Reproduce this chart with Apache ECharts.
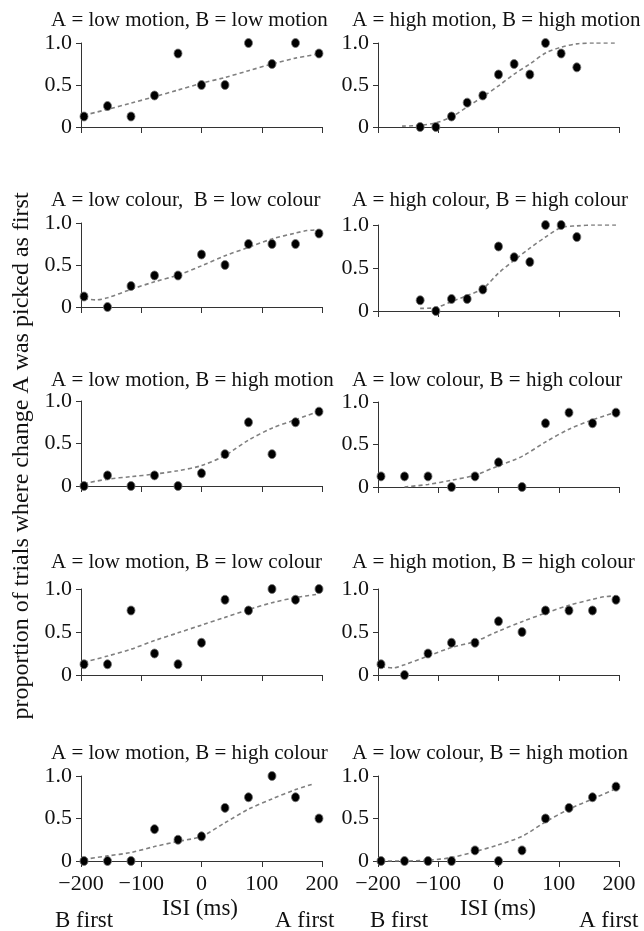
<!DOCTYPE html>
<html>
<head>
<meta charset="utf-8">
<title>temporal order judgements</title>
<script src="https://cdn.jsdelivr.net/npm/echarts@6/dist/echarts.min.js"></script>
<style>
  html, body { margin: 0; padding: 0; background: #fff; }
  #chart { width: 644px; height: 931px; }
</style>
</head>
<body>
<div id="chart"></div>
<script>
// ISI values (ms), two different sets were used
const isiLow = [-195, -156, -117, -78, -39, 0, 39, 78, 117, 156, 195]
const isiHigh = [-130, -104, -78, -52, -26, 0, 26, 52, 78, 104, 130]

const panelTitles = [
  'A = low motion, B = low motion',
  'A = high motion, B = high motion',
  'A = low colour,  B = low colour',
  'A = high colour, B = high colour',
  'A = low motion, B = high motion',
  'A = low colour, B = high colour',
  'A = low motion, B = low colour',
  'A = high motion, B = high colour',
  'A = low motion, B = high colour',
  'A = low colour, B = high motion'
]

// proportion of trials where A was picked first
const lmLm = [0.125, 0.25, 0.125, 0.375, 0.875, 0.5, 0.5, 1.0, 0.75, 1.0, 0.875]
const hmHm = [0, 0, 0.125, 0.29, 0.375, 0.625, 0.75, 0.625, 1.0, 0.875, 0.71]
const lcLc = [0.125, 0, 0.25, 0.375, 0.375, 0.625, 0.5, 0.75, 0.75, 0.75, 0.875]
const hcHc = [0.125, 0, 0.14, 0.14, 0.25, 0.75, 0.625, 0.57, 1.0, 1.0, 0.86]
const lmHm = [0, 0.125, 0, 0.125, 0, 0.15, 0.375, 0.75, 0.375, 0.75, 0.875]
const lcHc = [0.125, 0.125, 0.125, 0, 0.125, 0.29, 0, 0.75, 0.875, 0.75, 0.875]
const lmLc = [0.125, 0.125, 0.75, 0.25, 0.125, 0.375, 0.875, 0.75, 1.0, 0.875, 1.0]
const hmHc = [0.125, 0, 0.25, 0.375, 0.375, 0.625, 0.5, 0.75, 0.75, 0.75, 0.875]
const lmHc = [0, 0, 0, 0.375, 0.25, 0.29, 0.625, 0.75, 1.0, 0.75, 0.5]
const lcHm = [0, 0, 0, 0, 0.125, 0, 0.125, 0.5, 0.625, 0.75, 0.875]

// fitted curves (dashed)
const lmLmFitX = isiLow
const lmLmFitY = [0.14, 0.21, 0.285, 0.36, 0.44, 0.52, 0.59, 0.67, 0.75, 0.82, 0.87]
const hmHmFitX = [-160, -130, -104, -78, -52, -26, 0, 26, 52, 78, 104, 130, 160, 195]
const hmHmFitY = [0.01, 0.02, 0.05, 0.12, 0.24, 0.36, 0.49, 0.63, 0.75, 0.88, 0.95, 0.99, 1.0, 1.0]
const lcLcFitX = [-195, -175, -156, -117, -78, -39, 0, 39, 78, 117, 156, 175, 195]
const lcLcFitY = [0.10, 0.085, 0.11, 0.21, 0.30, 0.38, 0.49, 0.61, 0.71, 0.81, 0.88, 0.91, 0.92]
const hcHcFitX = [-130, -104, -78, -52, -26, 0, 26, 52, 78, 104, 130, 160, 195]
const hcHcFitY = [0.03, 0.04, 0.11, 0.18, 0.26, 0.44, 0.59, 0.73, 0.86, 0.97, 0.99, 1.0, 1.0]
const lmHmFitX = isiLow
const lmHmFitY = [0.03, 0.08, 0.11, 0.14, 0.18, 0.24, 0.36, 0.54, 0.68, 0.78, 0.88]
const lcHcFitX = [-156, -117, -78, -39, 0, 39, 78, 117, 156, 195]
const lcHcFitY = [0.0, 0.03, 0.08, 0.14, 0.25, 0.36, 0.53, 0.68, 0.79, 0.88]
const lmLcFitX = isiLow
const lmLcFitY = [0.15, 0.22, 0.30, 0.40, 0.49, 0.58, 0.67, 0.76, 0.84, 0.90, 0.94]
const hmHcFitX = [-195, -175, -156, -117, -78, -39, 0, 39, 78, 117, 156, 175, 195]
const hmHcFitY = [0.095, 0.083, 0.12, 0.22, 0.32, 0.39, 0.51, 0.62, 0.72, 0.81, 0.88, 0.91, 0.92]
const lmHcFitX = [-195, -156, -117, -78, -39, 0, 39, 78, 117, 156, 187]
const lmHcFitY = [0.02, 0.06, 0.10, 0.17, 0.23, 0.29, 0.45, 0.61, 0.73, 0.84, 0.91]
const lcHmFitX = isiLow
const lcHmFitY = [0, 0, 0.01, 0.04, 0.11, 0.19, 0.29, 0.46, 0.61, 0.73, 0.85]

const panels = [
  { x: isiLow, y: lmLm, fx: lmLmFitX, fy: lmLmFitY },
  { x: isiHigh, y: hmHm, fx: hmHmFitX, fy: hmHmFitY },
  { x: isiLow, y: lcLc, fx: lcLcFitX, fy: lcLcFitY },
  { x: isiHigh, y: hcHc, fx: hcHcFitX, fy: hcHcFitY },
  { x: isiLow, y: lmHm, fx: lmHmFitX, fy: lmHmFitY },
  { x: isiLow, y: lcHc, fx: lcHcFitX, fy: lcHcFitY },
  { x: isiLow, y: lmLc, fx: lmLcFitX, fy: lmLcFitY },
  { x: isiLow, y: hmHc, fx: hmHcFitX, fy: hmHcFitY },
  { x: isiLow, y: lmHc, fx: lmHcFitX, fy: lmHcFitY },
  { x: isiLow, y: lcHm, fx: lcHmFitX, fy: lcHmFitY }
]

// layout
const font = "'Liberation Serif', 'Times New Roman', serif"
const ink = '#111'
const colLeft = [81, 378]
const plotW = 241
const rowTop = [[43, 43], [223, 225], [401, 402], [589, 589], [776, 776]]
const rowH = [[84, 84], [84, 86], [85, 85], [86, 86], [85, 85]]
const titleY = [20, 200, 380, 562, 753]
const titleX = [51, 352]

const grid = []
const xAxis = []
const yAxis = []
const series = []
const graphic = []

panels.forEach((p, i) => {
  const row = Math.floor(i / 2)
  const col = i % 2
  const bottomRow = row === 4
  grid.push({
    left: colLeft[col],
    top: rowTop[row][col],
    width: plotW,
    height: rowH[row][col]
  })
  xAxis.push({
    gridIndex: i,
    type: 'value',
    min: -200,
    max: 200,
    interval: 100,
    axisLine: { onZero: false, lineStyle: { color: '#333', width: 1 } },
    axisTick: { length: 6, lineStyle: { color: '#333' } },
    splitLine: { show: false },
    axisLabel: {
      show: bottomRow,
      margin: 12,
      fontSize: 22,
      fontFamily: font,
      color: ink,
      formatter: v => String(v).replace('-', '\u2212')
    }
  })
  yAxis.push({
    gridIndex: i,
    type: 'value',
    min: 0,
    max: 1,
    interval: 0.5,
    axisLine: { show: true, onZero: false, lineStyle: { color: '#333', width: 1 } },
    axisTick: { show: true, length: 5, lineStyle: { color: '#333' } },
    splitLine: { show: false },
    axisLabel: {
      margin: 9,
      fontSize: 22,
      fontFamily: font,
      color: ink,
      formatter: v => (v === 0 ? '0' : v.toFixed(1))
    }
  })
  series.push({
    type: 'line',
    xAxisIndex: i,
    yAxisIndex: i,
    data: p.fx.map((v, k) => [v, p.fy[k]]),
    showSymbol: false,
    smooth: 0.3,
    silent: true,
    lineStyle: { color: '#808080', width: 1.6, type: [4, 3] },
    z: 2
  })
  series.push({
    type: 'scatter',
    xAxisIndex: i,
    yAxisIndex: i,
    data: p.x.map((v, k) => [v, p.y[k]]),
    symbol: 'circle',
    symbolSize: [8, 9],
    clip: false,
    itemStyle: { color: '#000', opacity: 1, borderColor: '#777', borderWidth: 0.8 },
    z: 3
  })
  graphic.push({
    type: 'text',
    x: titleX[col],
    y: titleY[row],
    style: {
      text: panelTitles[i],
      fontSize: 21,
      fontFamily: font,
      fill: ink,
      align: 'left',
      verticalAlign: 'middle'
    }
  })
})

// shared labels
const smallText = (text, x, y, align) => ({
  type: 'text',
  x: x,
  y: y,
  style: { text: text, fontSize: 23, fontFamily: font, fill: ink, align: align, verticalAlign: 'middle' }
})
graphic.push(smallText('ISI (ms)', 200, 909, 'center'))
graphic.push(smallText('ISI (ms)', 498, 909, 'center'))
graphic.push(smallText('B first', 55, 921, 'left'))
graphic.push(smallText('A first', 275, 921, 'left'))
graphic.push(smallText('B first', 370, 921, 'left'))
graphic.push(smallText('A first', 579, 921, 'left'))
graphic.push({
  type: 'text',
  x: 22,
  y: 456,
  rotation: Math.PI / 2,
  style: {
    text: 'proportion of trials where change A was picked as first',
    fontSize: 24,
    fontFamily: font,
    fill: ink,
    align: 'center',
    verticalAlign: 'middle'
  }
})

const myChart = echarts.init(document.getElementById('chart'))
myChart.setOption({
  animation: false,
  backgroundColor: '#fff',
  grid: grid,
  xAxis: xAxis,
  yAxis: yAxis,
  series: series,
  graphic: graphic
})
</script>
</body>
</html>
